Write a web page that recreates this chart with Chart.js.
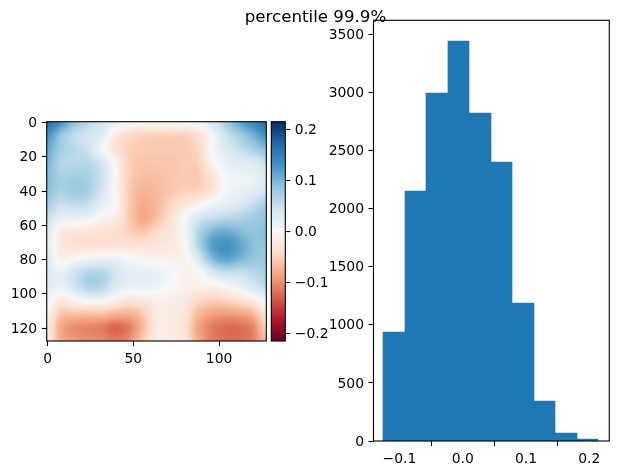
<!DOCTYPE html>
<html>
<head>
<meta charset="utf-8">
<title>percentile 99.9%</title>
<script src="https://cdn.jsdelivr.net/npm/chart.js@4"></script>
<style>
  html, body { margin: 0; padding: 0; background: #fff; }
  #stage { position: relative; width: 618px; height: 475px; overflow: hidden; }
  canvas { position: absolute; }
</style>
</head>
<body>
<div id="stage">
  <canvas id="histChart" width="618" height="475" style="left:0;top:0"></canvas>
  <canvas id="heatChart" width="270" height="275" style="left:0;top:100px"></canvas>
  <canvas id="barChart" width="70" height="275" style="left:262px;top:100px"></canvas>
</div>
<script>
// Histogram of the field values
const titleText = "percentile 99.9%";
const binCenters = [-0.1089, -0.0749, -0.0409, -0.0069, 0.0271, 0.0611, 0.0950, 0.1290, 0.1630, 0.1970];
const binCounts = [940, 2151, 2995, 3442, 2823, 2401, 1188, 344, 69, 17];
const histXTicks = [-0.1, 0.0, 0.1, 0.2];
const histXLabels = ["\u22120.1", "0.0", "0.1", "0.2"];
const histYTicks = [0, 500, 1000, 1500, 2000, 2500, 3000, 3500];

// Field sampled every 8 image rows and columns across the 128 x 128 extent
const gridCoords = [-0.5, 7.5, 15.5, 23.5, 31.5, 39.5, 47.5, 55.5, 63.5, 71.5, 79.5, 87.5, 95.5, 103.5, 111.5, 119.5, 127.5];
const row00 = [0.165, 0.13, 0.085, 0.06, 0.04, 0.02, 0.01, 0.005, 0.005, 0.005, 0.005, 0.01, 0.035, 0.07, 0.11, 0.14, 0.165];
const row01 = [0.13, 0.085, 0.055, 0.04, 0.025, -0.02, -0.04, -0.048, -0.05, -0.05, -0.05, -0.035, 0.0, 0.045, 0.07, 0.10, 0.13];
const row02 = [0.11, 0.075, 0.06, 0.045, 0.005, -0.03, -0.05, -0.055, -0.055, -0.055, -0.055, -0.045, 0.0, 0.03, 0.05, 0.07, 0.09];
const row03 = [0.10, 0.065, 0.06, 0.06, 0.04, -0.005, -0.05, -0.06, -0.06, -0.06, -0.055, -0.05, -0.01, 0.015, 0.025, 0.03, 0.05];
const row04 = [0.095, 0.07, 0.072, 0.07, 0.045, 0.0, -0.05, -0.065, -0.065, -0.06, -0.055, -0.055, -0.03, 0.005, 0.012, 0.015, 0.03];
const row05 = [0.09, 0.07, 0.078, 0.072, 0.04, -0.005, -0.055, -0.072, -0.068, -0.06, -0.05, -0.048, -0.03, 0.005, 0.015, 0.02, 0.04];
const row06 = [0.075, 0.05, 0.055, 0.05, 0.022, 0.0, -0.055, -0.08, -0.07, -0.048, -0.025, -0.012, 0.01, 0.02, 0.03, 0.05, 0.07];
const row07 = [0.05, 0.02, 0.02, 0.015, -0.005, -0.015, -0.055, -0.082, -0.065, -0.035, 0.0, 0.035, 0.05, 0.06, 0.065, 0.075, 0.085];
const row08 = [0.03, -0.015, -0.025, -0.025, -0.03, -0.035, -0.05, -0.06, -0.04, -0.025, 0.0, 0.06, 0.095, 0.105, 0.095, 0.085, 0.09];
const row09 = [0.025, -0.02, -0.03, -0.03, -0.03, -0.03, -0.03, -0.03, -0.025, -0.02, -0.005, 0.06, 0.115, 0.13, 0.115, 0.09, 0.085];
const row10 = [0.03, -0.01, 0.0, 0.01, 0.015, 0.012, 0.005, -0.005, -0.01, -0.01, -0.01, 0.03, 0.09, 0.115, 0.10, 0.085, 0.08];
const row11 = [0.03, 0.015, 0.04, 0.062, 0.062, 0.04, 0.02, 0.02, 0.015, 0.005, -0.01, -0.005, 0.03, 0.05, 0.05, 0.06, 0.07];
const row12 = [0.025, 0.015, 0.04, 0.066, 0.062, 0.03, 0.015, 0.015, 0.01, 0.0, -0.01, -0.01, -0.01, 0.0, 0.015, 0.035, 0.055];
const row13 = [0.01, -0.02, -0.005, 0.01, 0.01, -0.01, -0.025, -0.02, -0.012, -0.015, -0.02, -0.04, -0.05, -0.045, -0.035, -0.015, 0.01];
const row14 = [-0.005, -0.058, -0.062, -0.062, -0.062, -0.072, -0.075, -0.055, -0.018, -0.018, -0.025, -0.068, -0.085, -0.09, -0.085, -0.072, -0.025];
const row15 = [-0.015, -0.08, -0.1, -0.105, -0.11, -0.125, -0.11, -0.068, -0.018, -0.018, -0.03, -0.082, -0.11, -0.12, -0.12, -0.105, -0.05];
const row16 = [-0.015, -0.078, -0.092, -0.098, -0.102, -0.112, -0.098, -0.055, -0.012, -0.012, -0.025, -0.078, -0.108, -0.118, -0.118, -0.108, -0.07];
const fieldRows = [row00, row01, row02, row03, row04, row05, row06, row07, row08, row09, row10, row11, row12, row13, row14, row15, row16];
const heatXTicks = [0, 50, 100];
const heatYTicks = [0, 20, 40, 60, 80, 100, 120];

// Diverging colour scale, low to high, and its symmetric limits
const colorStops = ["#67001f", "#b2182b", "#d6604d", "#f4a582", "#fddbc7", "#f7f7f7", "#d1e5f0", "#92c5de", "#4393c3", "#2166ac", "#053061"];
const colorLimit = 0.2145;
const colorbarTicks = [-0.2, -0.1, 0.0, 0.1, 0.2];
const colorbarLabels = ["\u22120.2", "\u22120.1", "0.0", "0.1", "0.2"];

const tickFont = { family: "'DejaVu Sans'", size: 13.9 };

function hexToRgb(h) {
  return [1, 3, 5].map(i => parseInt(h.slice(i, i + 2), 16));
}
const stopRgb = colorStops.map(hexToRgb);

function colorFor(v) {
  const t = Math.min(1, Math.max(0, (v + colorLimit) / (2 * colorLimit))) * (stopRgb.length - 1);
  const i = Math.min(stopRgb.length - 2, Math.floor(t));
  const f = t - i;
  return stopRgb[i].map((c, k) => c + (stopRgb[i + 1][k] - c) * f);
}

// Axes box outline, drawn over the marks
const framePlugin = {
  id: "frame",
  afterDraw(chart) {
    const a = chart.chartArea, c = chart.ctx;
    c.save();
    c.strokeStyle = "#000";
    c.lineWidth = 1.1;
    c.strokeRect(a.left, a.top, a.right - a.left, a.bottom - a.top);
    c.restore();
  }
};

// Keeps neighbouring histogram bars flush by snapping their edges to whole pixels
const snapBarsPlugin = {
  id: "snapBars",
  afterDatasetsUpdate(chart) {
    chart.getDatasetMeta(0).data.forEach(el => {
      const l = Math.round(el.x - el.width / 2);
      const r = Math.round(el.x + el.width / 2);
      el.x = (l + r) / 2;
      el.width = r - l;
      el.y = Math.round(el.y);
      el.base = Math.round(el.base);
    });
  }
};

// Cubic blend of four neighbouring field samples, used when the raster is resampled
function cubic(a, b, c, d, t) {
  return b + 0.5 * t * (c - a + t * (2 * a - 5 * b + 4 * c - d + t * (3 * (b - c) + d - a)));
}

function sampleField(rows, gx, gy) {
  const n = rows.length;
  const clampIdx = i => Math.max(0, Math.min(n - 1, i));
  const ix = Math.min(n - 2, Math.floor(gx)), iy = Math.min(n - 2, Math.floor(gy));
  const fx = gx - ix, fy = gy - iy;
  const across = [-1, 0, 1, 2].map(dy => {
    const row = rows[clampIdx(iy + dy)];
    return cubic(row[clampIdx(ix - 1)], row[ix], row[ix + 1], row[clampIdx(ix + 2)], fx);
  });
  return cubic(across[0], across[1], across[2], across[3], fy);
}

// Paints the field as a 128 x 128 raster placed by the chart's scales
const rasterPlugin = {
  id: "raster",
  beforeDatasetsDraw(chart) {
    const pts = chart.data.datasets[0].data;
    const n = gridCoords.length;
    const rows = [];
    for (let r = 0; r < n; r++) rows.push(pts.slice(r * n, (r + 1) * n).map(p => p.v));
    const size = 128;
    const off = document.createElement("canvas");
    off.width = size; off.height = size;
    const octx = off.getContext("2d");
    const img = octx.createImageData(size, size);
    const step = gridCoords[1] - gridCoords[0];
    for (let py = 0; py < size; py++) {
      for (let px = 0; px < size; px++) {
        const rgb = colorFor(sampleField(rows, (px + 0.5) / step, (py + 0.5) / step));
        const o = (py * size + px) * 4;
        img.data[o] = rgb[0];
        img.data[o + 1] = rgb[1];
        img.data[o + 2] = rgb[2];
        img.data[o + 3] = 255;
      }
    }
    octx.putImageData(img, 0, 0);
    const x0 = chart.scales.x.getPixelForValue(gridCoords[0]);
    const x1 = chart.scales.x.getPixelForValue(gridCoords[n - 1]);
    const y0 = chart.scales.y.getPixelForValue(gridCoords[0]);
    const y1 = chart.scales.y.getPixelForValue(gridCoords[n - 1]);
    const c = chart.ctx;
    c.save();
    c.imageSmoothingEnabled = true;
    c.drawImage(off, x0, y0, x1 - x0, y1 - y0);
    c.restore();
  }
};

// Gives the colour bar its gradient once the value scale has been laid out
const gradientPlugin = {
  id: "barGradient",
  afterLayout(chart) {
    const y = chart.scales.y;
    const g = chart.ctx.createLinearGradient(0, y.getPixelForValue(-colorLimit), 0, y.getPixelForValue(colorLimit));
    colorStops.forEach((c, i) => g.addColorStop(i / (colorStops.length - 1), c));
    chart.data.datasets[0].backgroundColor = g;
  }
};

const axisBase = (ticks, labels, gutter) => ({
  type: "linear",
  grid: { drawOnChartArea: false, drawTicks: true, tickLength: 5, tickColor: "#000", tickWidth: 1.1 },
  border: { display: false },
  ticks: {
    font: tickFont, color: "#000", padding: 5, autoSkip: false, maxRotation: 0, minRotation: 0,
    callback: (v, i) => labels[i]
  },
  afterBuildTicks: s => { s.ticks = ticks.map(v => ({ value: v })); },
  afterFit: s => {
    if (s.isHorizontal()) s.height = gutter; else s.width = gutter;
  }
});

// Value axes sit about a pixel lower than the text's own centre line
const valueAxis = (ticks, labels, gutter) => {
  const axis = axisBase(ticks, labels, gutter);
  axis.ticks.labelOffset = 1;
  axis.ticks.padding = 4.5;
  return axis;
};

const baseOptions = { responsive: false, maintainAspectRatio: false, animation: false, events: [] };

// Histogram panel; this canvas spans the page so the figure title can sit above the panel
new Chart(document.getElementById("histChart"), {
  type: "bar",
  data: {
    datasets: [{
      data: binCenters.map((x, i) => ({ x: x, y: binCounts[i] })),
      backgroundColor: "#1f77b4",
      borderWidth: 0,
      barPercentage: 1,
      categoryPercentage: 1
    }]
  },
  plugins: [snapBarsPlugin, framePlugin],
  options: Object.assign({}, baseOptions, {
    layout: { padding: { left: 21.7, right: 8.7, top: 0, bottom: 0 } },
    plugins: {
      legend: { display: false },
      tooltip: { enabled: false },
      title: {
        display: true, text: titleText, color: "#000",
        font: { family: "'DejaVu Sans'", size: 16.67, weight: "normal", lineHeight: 1.2 },
        padding: { top: 8, bottom: -7.7 }
      }
    },
    scales: {
      x: Object.assign(axisBase(histXTicks, histXLabels, 34), { min: -0.141, max: 0.2316, offset: false }),
      y: Object.assign(valueAxis(histYTicks, histYTicks.map(String), 351.8), { min: 0, max: 3620 })
    }
  })
});

// Field panel
new Chart(document.getElementById("heatChart"), {
  type: "scatter",
  data: {
    datasets: [{
      data: fieldRows.flatMap((row, r) => row.map((v, c) => ({ x: gridCoords[c], y: gridCoords[r], v: v }))),
      pointRadius: 0
    }]
  },
  plugins: [rasterPlugin, framePlugin],
  options: Object.assign({}, baseOptions, {
    layout: { padding: { left: 0, right: 3.7, top: 21.7, bottom: 0 } },
    plugins: { legend: { display: false }, tooltip: { enabled: false } },
    scales: {
      x: Object.assign(axisBase(heatXTicks, heatXTicks.map(String), 34), { min: -0.5, max: 127.5 }),
      y: Object.assign(valueAxis(heatYTicks, heatYTicks.map(String), 46.7), { min: -0.5, max: 127.5, reverse: true })
    }
  })
});

// Colour bar beside the field panel
new Chart(document.getElementById("barChart"), {
  type: "bar",
  data: {
    labels: ["field"],
    datasets: [{
      data: [[-colorLimit, colorLimit]],
      borderWidth: 0,
      barPercentage: 1,
      categoryPercentage: 1,
      backgroundColor: colorStops[5]
    }]
  },
  plugins: [gradientPlugin, framePlugin],
  options: Object.assign({}, baseOptions, {
    layout: { padding: { left: 9.3, right: 0, top: 21.7, bottom: 34 } },
    plugins: { legend: { display: false }, tooltip: { enabled: false } },
    scales: {
      x: { type: "category", display: false },
      y: Object.assign(valueAxis(colorbarTicks, colorbarLabels, 46.7), { position: "right", min: -colorLimit, max: colorLimit })
    }
  })
});
</script>
</body>
</html>
